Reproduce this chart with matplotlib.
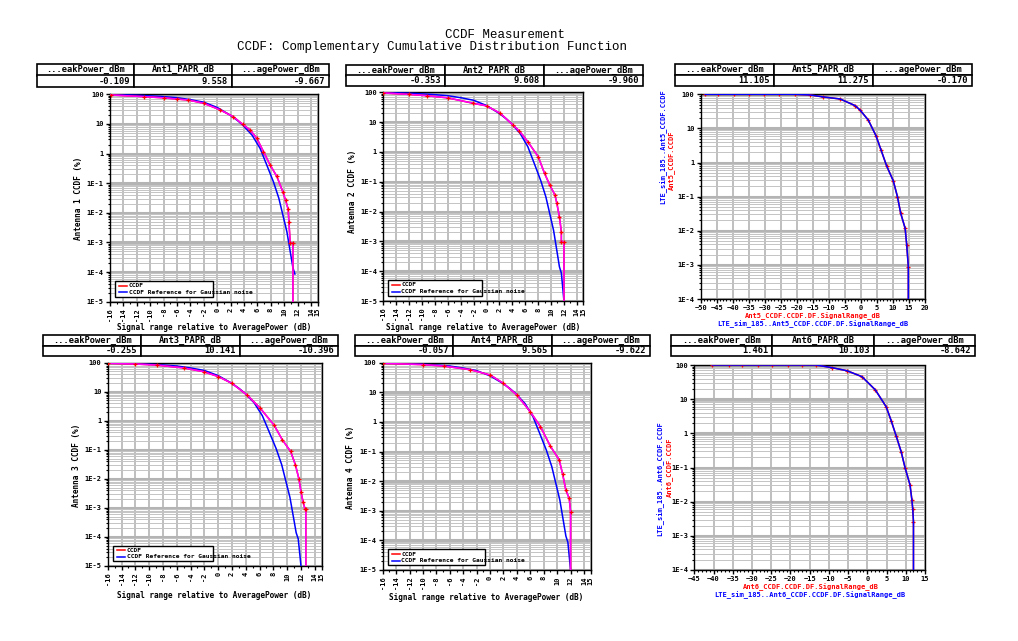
import matplotlib
matplotlib.use('Agg')
import matplotlib.pyplot as plt
from matplotlib.ticker import FixedLocator, FuncFormatter, LogLocator, NullFormatter
from matplotlib.patches import Rectangle
import numpy as np

W, H = 1018, 641
MONO = 'DejaVu Sans Mono'

# ---- data (x in dB, y in %) ----
gauss_x = [-16, -12, -8.5, -6, -4, -2, 0, 1.9, 3.0, 3.8, 5.2, 6.4, 7.4, 8.4, 9.2, 9.8, 10.4, 10.9, 11.3, 11.6, 12.0]
gauss_y = [97.5, 93.5, 85, 77, 66, 54, 36, 20, 13.2, 9.2, 4.2, 1.5, 0.41, 0.11, 0.031, 0.0085,
           0.0023, 0.00049, 0.00014, 0.000086, 0.00001]
gauss_stop = [-1, None, None, None]   # antenna 1 reference ends near 1E-4

ant1_x = [-15.9, -11.0, -8.0, -6.0, -4.3, -2.0, 0.45, 2.4, 3.8, 4.9, 5.9, 6.9, 7.9, 8.9, 9.8, 10.2, 10.6, 10.7, 10.9, 11.3, 11.3]
ant1_y = [95, 83.4, 76, 69, 64, 49.7, 29.6, 17.6, 9.7, 6.3, 3.3, 1.17, 0.41, 0.17, 0.051, 0.027, 0.013, 0.005,
          0.00095, 0.00095, 1e-9]
ant2_x = [-16, -12, -9.3, -6, -2.1, 0, 2.1, 4.1, 5.1, 6.4, 8.0, 9.0, 9.8, 10.6, 10.9, 11.3, 11.6, 11.6, 12.0, 12.0]
ant2_y = [95, 85, 77, 65, 43, 35, 20, 8, 5, 2.2, 0.7, 0.19, 0.078, 0.036, 0.019, 0.0066, 0.0021, 0.00098,
          0.00098, 1e-9]
ant3_x = [-15.9, -12, -8.9, -5, -2.1, 0.05, 2.0, 4.2, 6.1, 8.1, 9.3, 10.5, 11.2, 11.7, 12.0, 12.3, 12.6, 12.7, 12.7]
ant3_y = [95, 90, 83, 66, 49, 33, 19.4, 7.7, 2.7, 0.71, 0.22, 0.088, 0.03, 0.01, 0.0036, 0.0016, 0.00089,
          0.00089, 1e-9]
ant4_x = [-15.9, -10, -6.9, -3, 0.05, 2.0, 4.0, 6.0, 7.5, 9.0, 10.3, 10.8, 11.3, 11.8, 12.0, 12.0]
ant4_y = [95, 86, 77, 58, 38.4, 20, 8.1, 2.2, 0.7, 0.15, 0.053, 0.018, 0.005, 0.0026, 0.00094, 1e-9]

ant5_x = [-48.6, -44.5, -39.6, -34.9, -30.2, -25.5, -20.6, -16, -11.7, -6.5, -1.8, -0.3, 2.3, 4.7, 6.3, 8.0,
          10.1, 11.4, 12.4, 13.8, 14.3, 14.8, 14.8]
ant5_y = [100, 100, 100, 100, 100, 100, 100, 96, 83.5, 73, 46.5, 34.7, 17.6, 6.1, 2.3, 0.81, 0.29, 0.1,
          0.033, 0.0118, 0.0038, 0.00088, 1e-9]
ant6_x = [-40.3, -36.1, -32.5, -28.4, -24.7, -20.7, -16.9, -13.3, -9.2, -5.3, -1.4, 2.1, 4.9, 6.2, 7.5, 8.8,
          9.8, 11.1, 11.6, 11.8, 12.0, 12.0]
ant6_y = [100, 100, 100, 100, 100, 100, 100, 100, 83.6, 68, 45.6, 18.6, 6.0, 2.35, 0.84, 0.29, 0.1, 0.031,
          0.011, 0.0063, 0.0026, 1e-9]

table_heads = ['...eakPower_dBm', 'Ant{}_PAPR_dB', '...agePower_dBm']
peak_dbm = ['-0.109', '-0.353', '-0.255', '-0.057', '11.105', '1.461']
papr_db = ['9.558', '9.608', '10.141', '9.565', '11.275', '10.103']
avg_dbm = ['-9.667', '-9.960', '-10.396', '-9.622', '-0.170', '-8.642']

left_xticks = list(range(-16, 15, 2)) + [15]
right_xlim = [(-50, 20), (-45, 15)]


def rect(x0, y0, x1, y1):
    return [x0 / W, 1 - y1 / H, (x1 - x0) / W, (y1 - y0) / H]


def ylab(v, pos):
    e = int(round(np.log10(v)))
    return {2: '100', 1: '10', 0: '1'}.get(e, '1E%d' % e)


def style_axes(ax, ymin):
    ax.set_yscale('log')
    ax.set_ylim(ymin, 100)
    ax.yaxis.set_major_locator(LogLocator(base=10, numticks=20))
    ax.yaxis.set_minor_locator(LogLocator(base=10, subs=np.arange(2, 10), numticks=20))
    ax.yaxis.set_minor_formatter(NullFormatter())
    ax.yaxis.set_major_formatter(FuncFormatter(ylab))
    ax.grid(which='major', axis='y', color='#b4b4b4', lw=2.2)
    ax.grid(which='minor', axis='y', color='#c4c4c4', lw=0.7)
    ax.grid(which='major', axis='x', color='#b4b4b4', lw=1.2)
    ax.set_axisbelow(True)
    for s in ax.spines.values():
        s.set_color('black')
        s.set_linewidth(1)
        s.set_linestyle((0, (3, 1)))
    ax.tick_params(which='major', length=3, width=1, labelsize=5, pad=1.5)
    ax.tick_params(which='minor', length=1.5, width=0.8)
    for t in ax.get_xticklabels() + ax.get_yticklabels():
        t.set_family(MONO)
        t.set_weight('bold')


def add_table(i, box):
    ax = fig.add_axes(rect(*box))
    ax.axis('off')
    heads = [h.format(i + 1) for h in table_heads]
    tb = ax.table(cellText=[[peak_dbm[i], papr_db[i], avg_dbm[i]]], colLabels=heads,
                  cellLoc='right', colLoc='center', bbox=[0, 0, 1, 1])
    tb.auto_set_font_size(False)
    for (r, c), cell in tb.get_celld().items():
        cell.set_linewidth(1.2)
        cell.set_edgecolor('black')
        cell.PAD = 0.04
        cell.get_text().set_fontsize(6.3)
        cell.get_text().set_family(MONO)
        cell.get_text().set_weight('bold')


fig = plt.figure(figsize=(W / 100, H / 100), dpi=100)

fig.text(505 / W, 1 - 35 / H, 'CCDF Measurement', ha='center', va='center',
         family='Liberation Mono', fontsize=9)
fig.text(432 / W, 1 - 47 / H, 'CCDF: Complementary Cumulative Distribution Function', ha='center',
         va='center', family='Liberation Mono', fontsize=9)

# left panels: antennas 1-4
left_data = [(ant1_x, ant1_y), (ant2_x, ant2_y), (ant3_x, ant3_y), (ant4_x, ant4_y)]
left_boxes = [(110, 94.3, 317.7, 301.7), (383.3, 92.3, 583.3, 301), (107.7, 362.7, 321.7, 566),
              (382.7, 362.7, 590.7, 570)]
left_tables = [(37, 64, 329, 87), (346, 65, 643, 86), (43, 335, 338, 356), (355, 335, 650, 356)]
left_ylab = [(78, 198), (352, 191), (77, 465), (350, 467)]
left_xlab = [(214, 327), (483, 327), (214, 595), (486, 598)]

for i, (mx, my) in enumerate(left_data):
    ax = fig.add_axes(rect(*left_boxes[i]))
    style_axes(ax, 1e-5)
    ax.set_xlim(-16, 15)
    ax.set_xticks(left_xticks)
    ax.xaxis.set_minor_locator(FixedLocator(range(-15, 15, 2)))
    ax.set_xticklabels([str(v) for v in left_xticks], rotation=90, family=MONO, weight='bold', fontsize=5)
    gx, gy = gauss_x[:gauss_stop[i]], gauss_y[:gauss_stop[i]]
    ax.plot(gx, gy, color='blue', lw=1.1, zorder=3)
    ax.plot(mx, my, color='red', lw=1.1, zorder=4)
    ax.plot(mx, my, color='magenta', lw=1.1, zorder=5)
    ax.plot(mx[:-1], my[:-1], ls='none', marker='+', ms=3.5, mew=0.9, color='red', zorder=6)
    # legend drawn as in the original: the text runs past its box
    ax.add_patch(Rectangle((0.024, 0.023), 0.47, 0.077, transform=ax.transAxes, fill=True,
                           facecolor='white', edgecolor='black', lw=1, zorder=7))
    for k, (c, lab) in enumerate([('red', 'CCDF'), ('blue', 'CCDF Reference for Gaussian noise')]):
        yy = 0.077 - k * 0.032
        ax.plot([0.045, 0.082], [yy, yy], color=c, lw=1.1, transform=ax.transAxes, zorder=8)
        ax.text(0.09, yy, lab, transform=ax.transAxes, va='center', ha='left', family=MONO,
                weight='bold', fontsize=4.5, zorder=8)
    fig.text(left_ylab[i][0] / W, 1 - left_ylab[i][1] / H, 'Antenna %d CCDF (%%)' % (i + 1),
             rotation=90, ha='center', va='center', family=MONO, weight='bold', fontsize=5.6)
    fig.text(left_xlab[i][0] / W, 1 - left_xlab[i][1] / H, 'Signal range relative to AveragePower (dB)',
             ha='center', va='center', family=MONO, weight='bold', fontsize=5.6)
    add_table(i, left_tables[i])

# right panels: antennas 5 and 6
right_data = [(ant5_x, ant5_y), (ant6_x, ant6_y)]
right_boxes = [(700.7, 94.3, 925, 299), (694.3, 365, 925, 570)]
right_tables = [(675, 64, 972, 86), (671, 335, 975, 356)]
right_ylab = [((663, 147), (671, 160)), ((660, 479), (669, 467))]
right_xlab = [((813, 316), (813, 324.5)), ((811, 587), (810, 595.5))]

for j, (mx, my) in enumerate(right_data):
    n = j + 5
    ax = fig.add_axes(rect(*right_boxes[j]))
    style_axes(ax, 1e-4)
    lo, hi = right_xlim[j]
    ax.set_xlim(lo, hi)
    ax.set_xticks(range(lo, hi + 1, 5))
    ax.xaxis.set_minor_locator(FixedLocator(range(lo, hi + 1, 1)))
    for t in ax.get_xticklabels():
        t.set_family(MONO)
        t.set_weight('bold')
    ax.plot(mx, my, color='red', lw=1.1, marker='+', ms=3.5, mew=0.9, zorder=3)
    ax.plot(mx, my, color='blue', lw=1.1, zorder=4)
    (bx, by), (rx, ry) = right_ylab[j]
    fig.text(bx / W, 1 - by / H, 'LTE_sim_185..Ant%d_CCDF.CCDF' % n, rotation=90, ha='center',
             va='center', color='blue', family=MONO, weight='bold', fontsize=5)
    fig.text(rx / W, 1 - ry / H, 'Ant%d_CCDF.CCDF' % n, rotation=90, ha='center', va='center',
             color='red', family=MONO, weight='bold', fontsize=5)
    (rx, ry), (bx, by) = right_xlab[j]
    fig.text(rx / W, 1 - ry / H, 'Ant%d_CCDF.CCDF.DF.SignalRange_dB' % n, ha='center', va='center',
             color='red', family=MONO, weight='bold', fontsize=5)
    fig.text(bx / W, 1 - by / H, 'LTE_sim_185..Ant%d_CCDF.CCDF.DF.SignalRange_dB' % n, ha='center',
             va='center', color='blue', family=MONO, weight='bold', fontsize=5)
    add_table(n - 1, right_tables[j])

fig.savefig('out.png', dpi=100)
